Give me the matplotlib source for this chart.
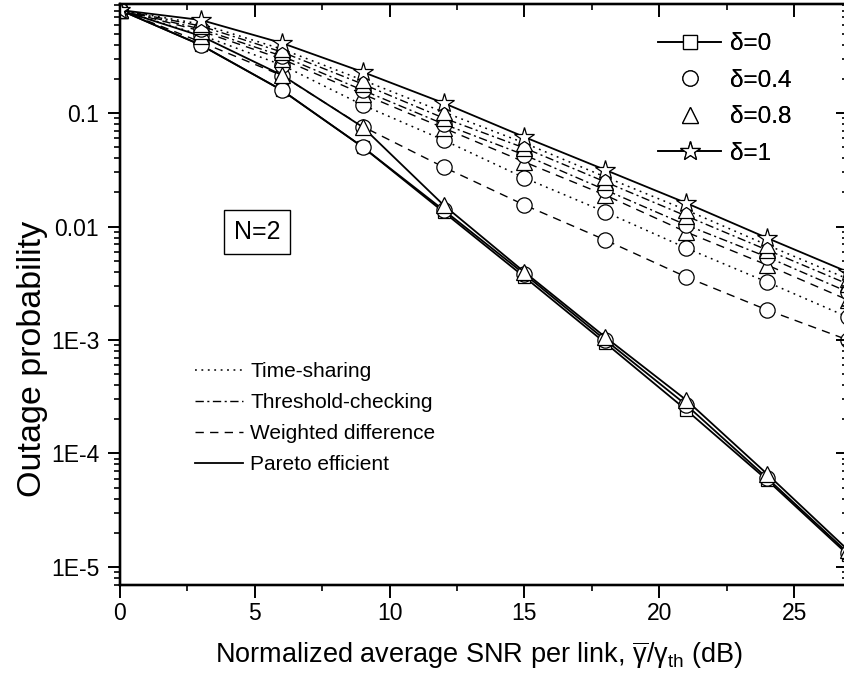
import matplotlib
matplotlib.use('Agg')
import matplotlib.pyplot as plt
from matplotlib.lines import Line2D

plt.rcParams['font.family'] = ['Liberation Sans', 'DejaVu Sans']
plt.rcParams['mathtext.fontset'] = 'custom'
plt.rcParams['mathtext.rm'] = 'Liberation Sans'
plt.rcParams['mathtext.it'] = 'Liberation Sans'
plt.rcParams['mathtext.bf'] = 'Liberation Sans:bold'

# ---------------- data ----------------
snr_db = [0, 3, 6, 9, 12, 15, 18, 21, 24, 27]

delta1_all = [0.808, 0.660, 0.414, 0.230, 0.1225, 0.0614, 0.0315, 0.0161, 0.00792, 0.00397]
delta0_all = [0.808, 0.397, 0.159, 0.0502, 0.01342, 0.00359, 0.000941, 0.000242, 5.84e-5, 1.28e-5]

ts_d08 = [0.808, 0.608, 0.366, 0.195, 0.102, 0.0544, 0.0273, 0.01397, 0.00687, 0.00345]
ts_d04 = [0.808, 0.487, 0.265, 0.1176, 0.0578, 0.0268, 0.01342, 0.00646, 0.00324, 0.00159]

tc_d08 = [0.808, 0.584, 0.345, 0.180, 0.0903, 0.0492, 0.0247, 0.01238, 0.00621, 0.00311]
tc_d04 = [0.808, 0.550, 0.318, 0.159, 0.080, 0.0427, 0.0210, 0.01031, 0.00539, 0.00265]

wd_d08 = [0.808, 0.528, 0.299, 0.147, 0.0738, 0.0370, 0.0189, 0.00894, 0.00458, 0.00225]
wd_d04 = [0.808, 0.422, 0.214, 0.0760, 0.0334, 0.01547, 0.00760, 0.00359, 0.00184, 0.00100]

pe_d08 = [0.808, 0.477, 0.216, 0.0753, 0.01547, 0.00397, 0.00106, 0.000296, 6.60e-5, 1.41e-5]
pe_d04 = [0.808, 0.397, 0.159, 0.0502, 0.01397, 0.00381, 0.00100, 0.000268, 6.08e-5, 1.33e-5]

ytick_vals = [1e-5, 1e-4, 1e-3, 1e-2, 1e-1]
ytick_labels = ['1E-5', '1E-4', '1E-3', '0.01', '0.1']
xtick_vals = [0, 5, 10, 15, 20, 25]
xminor_vals = [2.5, 7.5, 12.5, 17.5, 22.5]

delta_labels = ['δ=0', 'δ=0.4', 'δ=0.8', 'δ=1']
scheme_labels = ['Time-sharing', 'Threshold-checking', 'Weighted difference', 'Pareto efficient']

# ---------------- styles ----------------
LS_TS = (0, (1.2, 3.0))
LS_TC = (0, (6, 2.5, 1.5, 2.5))
LS_WD = (0, (6, 4.5))
LS_PE = '-'

mk = dict(markerfacecolor='white', markeredgecolor='black', markeredgewidth=0.9, color='black')

fig = plt.figure(figsize=(8.44, 6.82), dpi=100)
W, H = 844, 682
ax = fig.add_axes([120 / W, (H - 585) / H, 728 / W, 581 / H])

# other schemes (upper cluster)
ax.plot(snr_db, wd_d04, linestyle=LS_WD, lw=1.0, marker='o', markersize=11, **mk, zorder=3)
ax.plot(snr_db, ts_d04, linestyle=LS_TS, lw=1.1, marker='o', markersize=11, **mk, zorder=4)
ax.plot(snr_db, wd_d08, linestyle=LS_WD, lw=1.0, marker='^', markersize=11, **mk, zorder=5)
ax.plot(snr_db, tc_d04, linestyle=LS_TC, lw=1.0, marker='o', markersize=11, **mk, zorder=5)
ax.plot(snr_db, tc_d08, linestyle=LS_TC, lw=1.0, marker='^', markersize=11, **mk, zorder=6)
ax.plot(snr_db, ts_d08, linestyle=LS_TS, lw=1.1, marker='^', markersize=11, **mk, zorder=6)

# Pareto efficient + delta=0 (steep curves)
ax.plot(snr_db, delta0_all, linestyle='-', lw=1.3, marker='s', markersize=9, **mk, zorder=4)
ax.plot(snr_db, pe_d04, linestyle=LS_PE, lw=1.3, marker='o', markersize=11, **mk, zorder=4)
ax.plot(snr_db, pe_d08, linestyle=LS_PE, lw=1.3, marker='^', markersize=11, **mk, zorder=4)

# delta = 1
ax.plot(snr_db, delta1_all, linestyle='-', lw=1.3, marker='*', markersize=15, **mk, zorder=7)

ax.set_yscale('log')
ax.set_xlim(0, 27)
ax.set_ylim(6.94e-6, 0.913)

ax.set_xticks(xtick_vals)
ax.set_xticks(xminor_vals, minor=True)
ax.set_yticks(ytick_vals)
ax.set_yticklabels(ytick_labels)

for s in ax.spines.values():
    s.set_linewidth(1.6)

ax.tick_params(axis='both', which='major', labelsize=16.5, width=1.4, length=9)
ax.tick_params(axis='both', which='minor', width=1.2, length=4.5)
ax.tick_params(axis='x', which='both', direction='out', top=False, pad=3)
ax.tick_params(axis='y', which='both', direction='out', right=False, pad=6)

ax_top = ax.twiny()
ax_top.set_xlim(ax.get_xlim())
ax_top.set_xticks(xtick_vals)
ax_top.set_xticks(xminor_vals, minor=True)
ax_top.tick_params(axis='x', which='both', direction='in', labeltop=False, top=True, bottom=False)
ax_top.tick_params(which='major', width=1.4, length=9)
ax_top.tick_params(which='minor', width=1.2, length=4.5)
ax_right = ax.twinx()
ax_right.set_yscale('log')
ax_right.set_ylim(ax.get_ylim())
ax_right.set_yticks(ytick_vals)
ax_right.tick_params(axis='y', which='both', direction='in', labelright=False, right=True, left=False)
ax_right.tick_params(which='major', width=1.4, length=9)
ax_right.tick_params(which='minor', width=1.2, length=4.5)
for a in (ax_top, ax_right):
    for s in a.spines.values():
        s.set_linewidth(1.6)

ax.set_xlabel(r'Normalized average SNR per link, $\overline{\gamma}/\gamma_{\mathrm{th}}$ (dB)', fontsize=19.5)
ax.xaxis.set_label_coords(0.493, -0.094)
ax.set_ylabel('Outage probability', fontsize=24.5)
ax.yaxis.set_label_coords(-0.099, 0.389)

# N=2 box
ax.text(0.188, 0.608, 'N=2', transform=ax.transAxes, fontsize=18, ha='center', va='center',
        bbox=dict(boxstyle='square,pad=0.4', facecolor='white', edgecolor='black', linewidth=1.0), zorder=8)

# legend for delta
h_d = [
    Line2D([], [], linestyle='-', lw=1.2, marker='s', markersize=10, **mk),
    Line2D([], [], linestyle='none', marker='o', markersize=11, **mk),
    Line2D([], [], linestyle='none', marker='^', markersize=11, **mk),
    Line2D([], [], linestyle='-', lw=1.2, marker='*', markersize=15, **mk),
]
leg1 = ax.legend(h_d, delta_labels, loc='upper left', bbox_to_anchor=(658 / W, 1 - 33 / H),
                 bbox_transform=fig.transFigure, frameon=False, fontsize=17.5, handlelength=2.6,
                 handletextpad=0.35, labelspacing=0.6, borderpad=0, borderaxespad=0)
ax.add_artist(leg1)

h_s = [
    Line2D([], [], linestyle=LS_TS, lw=1.1, color='black'),
    Line2D([], [], linestyle=LS_TC, lw=1.0, color='black'),
    Line2D([], [], linestyle=LS_WD, lw=1.0, color='black'),
    Line2D([], [], linestyle='-', lw=1.3, color='black'),
]
leg2 = ax_right.legend(h_s, scheme_labels, loc='upper left', bbox_to_anchor=(195 / W, 1 - 362 / H),
                       bbox_transform=fig.transFigure, frameon=False, fontsize=15, handlelength=2.3,
                       handletextpad=0.35, labelspacing=0.58, borderpad=0, borderaxespad=0)

fig.savefig('out.png', dpi=100)
